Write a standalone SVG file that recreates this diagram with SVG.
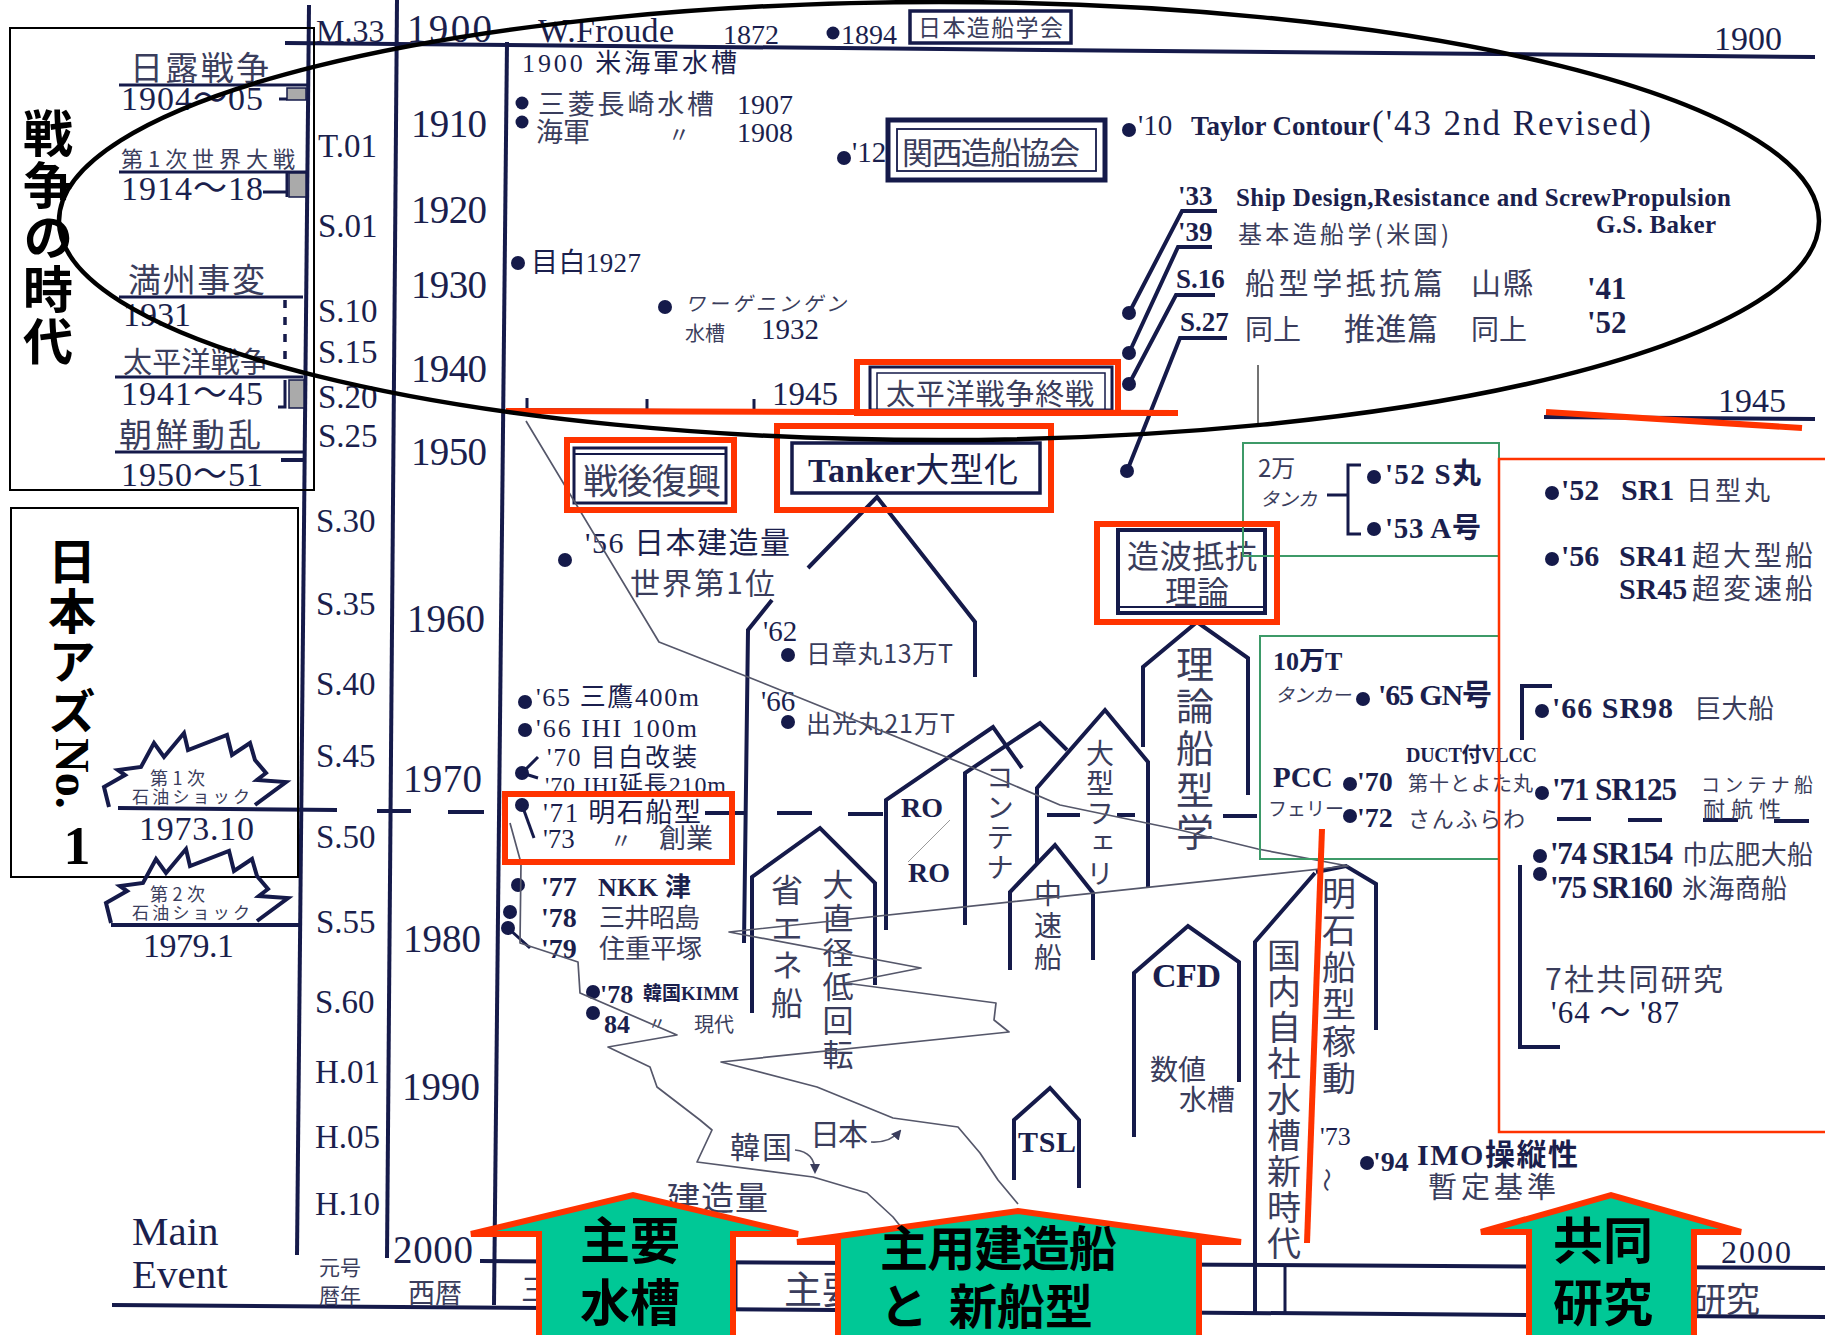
<svg xmlns="http://www.w3.org/2000/svg" width="1825" height="1335" viewBox="0 0 1825 1335">
<defs>
<style>
.ln{fill:none;stroke:#151a4a;stroke-width:4;stroke-linejoin:miter}
.ln3{fill:none;stroke:#151a4a;stroke-width:3}
.tl{fill:none;stroke:#55576a;stroke-width:1.7;stroke-linejoin:round}
.dot{fill:#151a4a}
.s{font-family:"Liberation Serif","Noto Sans CJK JP",serif;fill:#1b1f4d}
.b{font-weight:bold}
.j{font-family:"Noto Sans CJK JP",sans-serif;fill:#3a3d5c}
.vt{font-family:"Noto Sans CJK JP",sans-serif;fill:#3a3d5c;writing-mode:vertical-rl}
.vb{font-family:"Noto Sans CJK JP",sans-serif;font-weight:bold;fill:#000;writing-mode:vertical-rl}
.red{fill:none;stroke:#ff3300;stroke-width:6}
.redt{fill:none;stroke:#ff3300;stroke-width:2.5}
.grn{fill:none;stroke:#3d9a68;stroke-width:2}
.arw{fill:#00c896;stroke:#ff3300;stroke-width:6;stroke-linejoin:miter}
.big{font-family:"Noto Sans CJK JP",sans-serif;font-weight:bold;fill:#000}
.box{fill:none;stroke:#000;stroke-width:2}
.gb{fill:#aaaaaa;stroke:#151a4a;stroke-width:1.5}
</style>
<marker id="ah" viewBox="0 0 10 10" refX="8" refY="5" markerWidth="6" markerHeight="6" orient="auto"><path d="M0,0 L10,5 L0,10 z" fill="#3a3d5c"/></marker>
<path id="burst" d="M109,807 L104,787 L125,775 L118,770 L141,767 L154,743 L164,757 L184,733 L188,750 L227,735 L232,755 L250,743 L255,760 L266,773 L257,780 L286,782 L255,805"/>
</defs>
<rect width="1825" height="1335" fill="#fff"/>

<g id="axes">
<path class="ln" d="M309,5 L297,1255"/>
<path class="ln" d="M397,0 L387,1258"/>
<path class="ln" d="M507,42 L494,1305"/>
<path class="ln" d="M285,43 L1815,57"/>
<path class="ln" d="M506,410 L1178,414"/>
<path class="ln" d="M1544,417 L1815,419"/>
<path class="ln3" d="M527,398 V410 M647,399 V411 M754,399 V411"/>
<path class="ln" d="M118,808 L337,810 M377,811 L411,811 M448,812 L484,812 M705,813 L745,813 M777,813 L812,813 M848,814 L883,814 M1047,815 L1080,815 M1117,815 L1135,815 M1223,816 L1257,816 M1557,819 L1591,819 M1628,820 L1662,820 M1703,820 L1738,820 M1774,821 L1809,821"/>
<path class="ln" d="M480,1261 L1825,1268"/>
<path class="ln" d="M112,1305 L1825,1317"/>
<path class="ln3" d="M736,1263 V1311 M1285,1266 V1315"/>
<path d="M1258,365 V425" stroke="#444" stroke-width="1.5"/>
</g>

<g id="era-labels" class="s" font-size="33">
<text x="316" y="42" font-size="32">M.33</text>
<text x="318" y="157">T.01</text>
<text x="318" y="237">S.01</text>
<text x="318" y="322">S.10</text>
<text x="318" y="363">S.15</text>
<text x="318" y="408">S.20</text>
<text x="318" y="447">S.25</text>
<text x="316" y="532">S.30</text>
<text x="316" y="615">S.35</text>
<text x="316" y="695">S.40</text>
<text x="316" y="767">S.45</text>
<text x="316" y="848">S.50</text>
<text x="316" y="933">S.55</text>
<text x="315" y="1013">S.60</text>
<text x="315" y="1083">H.01</text>
<text x="315" y="1148">H.05</text>
<text x="315" y="1215">H.10</text>
</g>

<g id="year-labels" class="s" font-size="39">
<text x="407" y="42" textLength="85">1900</text>
<text x="411" y="137" textLength="76">1910</text>
<text x="411" y="223" textLength="76">1920</text>
<text x="411" y="298" textLength="76">1930</text>
<text x="411" y="382" textLength="76">1940</text>
<text x="411" y="465" textLength="76">1950</text>
<text x="407" y="632" textLength="78">1960</text>
<text x="403" y="792" textLength="79">1970</text>
<text x="403" y="952" textLength="78">1980</text>
<text x="402" y="1100" textLength="78">1990</text>
<text x="393" y="1263" textLength="80">2000</text>
</g>

<g id="axis-captions">
<text class="s" x="132" y="1245" font-size="41">Main</text>
<text class="s" x="132" y="1288" font-size="41">Event</text>
<text class="j" x="319" y="1275" font-size="21">元号</text>
<text class="j" x="319" y="1303" font-size="21">暦年</text>
<text class="j" x="408" y="1303" font-size="27">西暦</text>
<text class="j" x="521" y="1300" font-size="30">三</text>
<text class="j" x="784" y="1303" font-size="38">主要</text>
<text class="j" x="1692" y="1312" font-size="34">研究</text>
<text class="s" x="1721" y="1263" font-size="32" textLength="70">2000</text>
</g>

<g id="war-panel">
<rect class="box" x="10" y="28" width="304" height="462"/>
<text class="j" x="130" y="80" font-size="33" textLength="139">日露戦争</text>
<path class="ln3" d="M119,85 H308"/>
<text class="s" x="121" y="110" font-size="34" textLength="142">1904～05</text>
<path class="ln3" d="M279,99 H287"/>
<rect class="gb" x="287" y="88" width="19" height="12"/>
<text class="j" x="121" y="167" font-size="22" textLength="174">第1次世界大戦</text>
<path class="ln3" d="M119,172 H308"/>
<text class="s" x="121" y="200" font-size="34" textLength="142">1914～18</text>
<path class="ln3" d="M263,192 H287 M287,173 V197"/>
<rect class="gb" x="289" y="173" width="17" height="24"/>
<text class="j" x="128" y="292" font-size="33" textLength="137">満州事変</text>
<path class="ln3" d="M119,297 H303"/>
<text class="s" x="123" y="326" font-size="34">1931</text>
<path d="M285,300 V367" stroke="#151a4a" stroke-width="3.5" stroke-dasharray="8,9"/>
<text class="j" x="123" y="373" font-size="29" textLength="146">太平洋戦争</text>
<path class="ln3" d="M115,377 H303"/>
<text class="s" x="121" y="405" font-size="34" textLength="142">1941～45</text>
<path class="ln3" d="M285,380 V407 H278"/>
<rect class="gb" x="289" y="380" width="15" height="28"/>
<text class="j" x="119" y="447" font-size="33" textLength="142">朝鮮動乱</text>
<path class="ln3" d="M115,452 H303"/>
<text class="s" x="121" y="486" font-size="34" textLength="142">1950～51</text>
<path class="ln" d="M281,460 H305"/>
<text class="vb" x="48" y="108" font-size="50" letter-spacing="2">戦争の時代</text>
</g>

<g id="japan-no1-panel">
<rect class="box" x="11" y="508" width="287" height="369"/>
<text class="vb" x="72" y="537" font-size="48" letter-spacing="2">日本アズ</text>
<text font-family="Liberation Serif,serif" font-weight="bold" font-size="48" fill="#000" transform="translate(56,738) rotate(90)">No.</text>
<text font-family="Liberation Serif,serif" font-weight="bold" font-size="54" fill="#000" x="77" y="864" text-anchor="middle">1</text>
</g>

<g id="oil-shock-1">
<use href="#burst" class="ln"/>
<text class="j" x="150" y="785" font-size="18" textLength="55">第1次</text>
<text class="j" x="132" y="803" font-size="17" textLength="118">石油ショック</text>
<text class="s" x="139" y="840" font-size="34" textLength="115">1973.10</text>
</g>
<g id="oil-shock-2">
<use href="#burst" class="ln" transform="translate(2,116)"/>
<path class="ln" d="M111,925 L300,925"/>
<text class="j" x="150" y="901" font-size="18" textLength="55">第2次</text>
<text class="j" x="132" y="919" font-size="17" textLength="118">石油ショック</text>
<text class="s" x="143" y="957" font-size="34" textLength="91">1979.1</text>
</g>

<g id="top-row">
<text class="s" x="538" y="42" font-size="34" textLength="136">W.Froude</text>
<text class="s" x="723" y="44" font-size="28">1872</text>
<circle class="dot" cx="833" cy="33" r="6.5"/>
<text class="s" x="841" y="44" font-size="28">1894</text>
<rect x="910" y="11" width="161" height="32" fill="none" stroke="#151a4a" stroke-width="3.5"/>
<text class="j" x="918" y="36" font-size="23" textLength="145">日本造船学会</text>
<text class="s" x="1714" y="50" font-size="34">1900</text>
</g>

<g id="early-events">
<text class="s" x="522" y="72" font-size="26" textLength="215">1900 米海軍水槽</text>
<circle class="dot" cx="522" cy="103" r="6.5"/>
<circle class="dot" cx="522" cy="122" r="6.5"/>
<text class="j" x="538" y="114" font-size="27" textLength="176">三菱長崎水槽</text>
<text class="s" x="737" y="114" font-size="28">1907</text>
<text class="j" x="536" y="142" font-size="27">海軍</text>
<text class="j" x="668" y="142" font-size="22">〃</text>
<text class="s" x="737" y="142" font-size="28">1908</text>
<circle class="dot" cx="844" cy="158" r="7"/>
<text class="s" x="852" y="162" font-size="29">'12</text>
<circle class="dot" cx="518" cy="263" r="7"/>
<text class="s" x="531" y="272" font-size="27" textLength="110">目白1927</text>
<circle class="dot" cx="665" cy="307" r="7"/>
<text class="j" x="685" y="311" font-size="20" textLength="161" font-style="italic">ワーゲニンゲン</text>
<text class="j" x="685" y="341" font-size="20">水槽</text>
<text class="s" x="761" y="339" font-size="29">1932</text>
<text class="s" x="772" y="405" font-size="33">1945</text>
<text class="s" x="1718" y="412" font-size="34">1945</text>
</g>

<g id="kansai-box">
<rect x="888" y="120" width="217" height="60" fill="none" stroke="#151a4a" stroke-width="5"/>
<rect x="897" y="129" width="199" height="42" fill="none" stroke="#151a4a" stroke-width="1.8"/>
<text class="j" x="902" y="164" font-size="31" textLength="178">関西造船協会</text>
</g>

<g id="taylor">
<circle class="dot" cx="1129" cy="130" r="7"/>
<text class="s" x="1138" y="135" font-size="29">'10</text>
<text class="s b" x="1191" y="135" font-size="27" textLength="179">Taylor Contour</text>
<text class="s" x="1372" y="135" font-size="35" textLength="279">('43  2nd Revised)</text>
</g>

<g id="books">
<circle class="dot" cx="1129" cy="313" r="7"/>
<circle class="dot" cx="1129" cy="353" r="7"/>
<circle class="dot" cx="1129" cy="384" r="7"/>
<circle class="dot" cx="1127" cy="471" r="7"/>
<text class="s b" x="1178" y="205" font-size="27">'33</text>
<text class="s b" x="1178" y="241" font-size="27">'39</text>
<text class="s b" x="1176" y="288" font-size="27">S.16</text>
<text class="s b" x="1180" y="331" font-size="27">S.27</text>
<text class="s b" x="1236" y="206" font-size="25" textLength="495">Ship Design,Resistance and ScrewPropulsion</text>
<text class="s b" x="1596" y="233" font-size="25" textLength="120">G.S. Baker</text>
<text class="j" x="1238" y="243" font-size="24" textLength="211">基本造船学(米国)</text>
<text class="j" x="1245" y="294" font-size="30" textLength="198">船型学抵抗篇</text>
<text class="j" x="1471" y="294" font-size="30" textLength="62">山縣</text>
<text class="s b" x="1587" y="299" font-size="31">'41</text>
<text class="j" x="1245" y="340" font-size="28">同上</text>
<text class="j" x="1344" y="340" font-size="31" textLength="94">推進篇</text>
<text class="j" x="1471" y="340" font-size="28">同上</text>
<text class="s b" x="1587" y="333" font-size="31">'52</text>
</g>

<g id="war-end-box">
<rect x="870" y="367" width="242" height="43" fill="none" stroke="#151a4a" stroke-width="3"/>
<rect x="877" y="373" width="228" height="37" fill="none" stroke="#151a4a" stroke-width="1.5"/>
<text class="j" x="886" y="405" font-size="29" textLength="208">太平洋戦争終戦</text>
</g>

<g id="postwar-box">
<rect x="574" y="448" width="152" height="55" fill="none" stroke="#151a4a" stroke-width="3"/>
<path d="M574,454 H726" stroke="#151a4a" stroke-width="2"/>
<text class="j" x="583" y="494" font-size="35" textLength="138">戦後復興</text>
</g>

<g id="tanker-house">
<rect x="792" y="443" width="248" height="50" fill="none" stroke="#151a4a" stroke-width="3.5"/>
<text class="s" x="808" y="482" font-size="34" textLength="210"><tspan font-weight="bold">Tanker</tspan>大型化</text>
<path class="ln" d="M808,568 L877,497 L975,622 V677"/>
</g>

<g id="events-50s-70s">
<circle class="dot" cx="565" cy="560" r="7"/>
<text class="s" x="585" y="553" font-size="30" textLength="205">'56 日本建造量</text>
<text class="j" x="630" y="594" font-size="30" textLength="145">世界第1位</text>
<path class="ln" d="M772,600 L748,630 L744,943"/>
<text class="s" x="763" y="641" font-size="29">'62</text>
<circle class="dot" cx="788" cy="655" r="7"/>
<text class="j" x="806" y="663" font-size="25" textLength="147">日章丸13万T</text>
<text class="s" x="761" y="711" font-size="29">'66</text>
<circle class="dot" cx="788" cy="722" r="7"/>
<text class="j" x="806" y="733" font-size="25" textLength="149">出光丸21万T</text>
<circle class="dot" cx="525" cy="702" r="7"/>
<text class="s" x="536" y="706" font-size="26" textLength="163">'65 三鷹400m</text>
<circle class="dot" cx="525" cy="730" r="7"/>
<text class="s" x="536" y="737" font-size="26" textLength="161">'66 IHI 100m</text>
<circle class="dot" cx="522" cy="773" r="7"/>
<path class="ln3" d="M538,757 L522,773 L538,778"/>
<text class="s" x="547" y="766" font-size="25" textLength="150">'70 目白改装</text>
<text class="s" x="545" y="793" font-size="24" textLength="181">'70 IHI延長210m</text>
<circle class="dot" cx="522" cy="805" r="7"/>
<path class="ln3" d="M522,805 L534,838"/>
<text class="s" x="543" y="822" font-size="27" textLength="158">'71 明石船型</text>
<text class="s" x="543" y="848" font-size="27">'73</text>
<text class="j" x="610" y="848" font-size="22">〃</text>
<text class="j" x="659" y="848" font-size="27">創業</text>
<circle class="dot" cx="518" cy="885" r="7"/>
<text class="s b" x="541" y="896" font-size="28">'77</text>
<text class="s b" x="598" y="896" font-size="26" textLength="93">NKK 津</text>
<circle class="dot" cx="510" cy="912" r="7"/>
<text class="s b" x="541" y="927" font-size="28">'78</text>
<text class="j" x="599" y="927" font-size="26" textLength="101">三井昭島</text>
<circle class="dot" cx="508" cy="928" r="7"/>
<path class="ln3" d="M508,928 L530,948"/>
<text class="s b" x="541" y="958" font-size="28">'79</text>
<text class="j" x="599" y="958" font-size="26" textLength="103">住重平塚</text>
<circle class="dot" cx="593" cy="992" r="7"/>
<text class="s b" x="600" y="1003" font-size="26">'78</text>
<text class="s b" x="643" y="1000" font-size="19" textLength="96">韓国KIMM</text>
<circle class="dot" cx="593" cy="1013" r="7"/>
<text class="s b" x="604" y="1033" font-size="26">84</text>
<text class="j" x="648" y="1030" font-size="18">〃</text>
<text class="j" x="694" y="1032" font-size="20">現代</text>
</g>

<g id="house-energy">
<path class="ln" d="M752,1013 V877 L820,828 L875,883 V985"/>
<text class="vt" x="787" y="874" font-size="32" letter-spacing="5.5">省エネ船</text>
<text class="vt" x="838" y="869" font-size="31" letter-spacing="3">大直径低回転</text>
</g>
<g id="house-roro">
<path class="ln" d="M886,930 V800 L993,727 L1022,768"/>
<text class="s b" x="901" y="817" font-size="28">RO</text>
<text class="s b" x="908" y="882" font-size="28">RO</text>
<path d="M908,862 L950,820" stroke="#999" stroke-width="1"/>
</g>
<g id="house-container">
<path class="ln" d="M965,925 V773 L1040,723 L1067,750"/>
<text class="vt" x="1000" y="763" font-size="28" letter-spacing="2">コンテナ</text>
</g>
<g id="house-ferry">
<path class="ln" d="M1037,863 V788 L1105,710 L1148,762 V887"/>
<text class="vt" x="1100" y="739" font-size="28" letter-spacing="2">大型フェリ</text>
</g>
<g id="house-medium">
<path class="ln" d="M1010,970 V892 L1055,845 L1093,893 V960"/>
<text class="vt" x="1048" y="879" font-size="28" letter-spacing="4">中速船</text>
</g>
<g id="house-theory">
<rect x="1118" y="530" width="147" height="83" fill="none" stroke="#151a4a" stroke-width="4"/>
<path d="M1118,607 H1265" stroke="#151a4a" stroke-width="2"/>
<text class="j" x="1192" y="568" font-size="32" text-anchor="middle" textLength="130">造波抵抗</text>
<text class="j" x="1197" y="604" font-size="32" text-anchor="middle">理論</text>
<path class="ln" d="M1143,747 V667 L1197,622 L1248,658 V795"/>
<text class="vt" x="1195" y="645" font-size="38" letter-spacing="4">理論船型学</text>
</g>
<g id="house-cfd">
<path class="ln" d="M1134,1137 V973 L1188,926 L1239,962 V1082"/>
<text class="s b" x="1152" y="987" font-size="34" textLength="69">CFD</text>
<text class="j" x="1150" y="1080" font-size="28">数値</text>
<text class="j" x="1179" y="1110" font-size="28">水槽</text>
</g>
<g id="house-tsl">
<path class="ln" d="M1014,1180 V1120 L1050,1088 L1079,1120 V1188"/>
<text class="s b" x="1018" y="1152" font-size="30" textLength="58">TSL</text>
</g>
<g id="house-domestic">
<path class="ln" d="M1255,1315 V942 L1315,873"/>
<text class="vt" x="1284" y="938" font-size="34" letter-spacing="2">国内自社水槽新時代</text>
</g>
<g id="house-akashi">
<path class="ln" d="M1316,872 L1346,866 L1376,884 V1030"/>
<text class="vt" x="1339" y="876" font-size="34" letter-spacing="3">明石船型稼動</text>
<text class="s" x="1320" y="1145" font-size="26">'73</text>
<text class="j" font-size="24" transform="translate(1318,1168) rotate(90)">～</text>
</g>

<g id="tankers-2man">
<text class="j" x="1258" y="477" font-size="24">2万</text>
<text class="j" x="1260" y="506" font-size="19" font-style="italic">タンカ</text>
<path class="ln3" d="M1327,495 H1348 M1361,465 H1348 V534 H1361"/>
<circle class="dot" cx="1374" cy="477" r="7"/>
<circle class="dot" cx="1374" cy="529" r="7"/>
<text class="s b" x="1385" y="484" font-size="29" textLength="96">'52 S丸</text>
<text class="s b" x="1385" y="538" font-size="29" textLength="96">'53 A号</text>
</g>

<g id="tankers-10man">
<text class="s b" x="1273" y="670" font-size="26">10万T</text>
<text class="j" x="1275" y="702" font-size="19" font-style="italic">タンカー</text>
<circle class="dot" cx="1363" cy="699" r="7"/>
<text class="s b" x="1378" y="705" font-size="30" textLength="114">'65 GN号</text>
<text class="s b" x="1406" y="762" font-size="20" textLength="131">DUCT付VLCC</text>
<text class="s b" x="1273" y="787" font-size="29">PCC</text>
<circle class="dot" cx="1350" cy="784" r="7"/>
<text class="s b" x="1357" y="791" font-size="28">'70</text>
<text class="j" x="1408" y="791" font-size="20" textLength="125">第十とよた丸</text>
<text class="j" x="1268" y="816" font-size="19">フェリー</text>
<circle class="dot" cx="1350" cy="816" r="7"/>
<text class="s b" x="1357" y="827" font-size="28">'72</text>
<text class="j" x="1408" y="827" font-size="22" textLength="117">さんふらわ</text>
</g>

<g id="sr-research">
<circle class="dot" cx="1552" cy="493" r="7"/>
<text class="s b" x="1561" y="500" font-size="30">'52</text>
<text class="s b" x="1621" y="500" font-size="30">SR1</text>
<text class="j" x="1686" y="500" font-size="26" textLength="84">日型丸</text>
<circle class="dot" cx="1552" cy="559" r="7"/>
<text class="s b" x="1561" y="566" font-size="30">'56</text>
<text class="s b" x="1619" y="566" font-size="30">SR41</text>
<text class="j" x="1692" y="566" font-size="28" textLength="121">超大型船</text>
<text class="s b" x="1619" y="599" font-size="30">SR45</text>
<text class="j" x="1692" y="599" font-size="28" textLength="121">超変速船</text>
<path class="ln" d="M1552,686 H1522 V740"/>
<circle class="dot" cx="1542" cy="711" r="7"/>
<text class="s b" x="1552" y="718" font-size="30" textLength="121">'66 SR98</text>
<text class="j" x="1695" y="718" font-size="26" textLength="79">巨大船</text>
<circle class="dot" cx="1542" cy="793" r="7"/>
<text class="s b" x="1552" y="800" font-size="31" textLength="125">'71 SR125</text>
<text class="j" x="1701" y="792" font-size="19" textLength="112">コンテナ船</text>
<text class="j" x="1703" y="817" font-size="22" textLength="78">耐航性</text>
<circle class="dot" cx="1540" cy="856" r="7"/>
<text class="s b" x="1550" y="864" font-size="31" textLength="123">'74 SR154</text>
<text class="j" x="1682" y="864" font-size="26" textLength="131">巾広肥大船</text>
<circle class="dot" cx="1540" cy="874" r="7"/>
<text class="s b" x="1550" y="898" font-size="31" textLength="123">'75 SR160</text>
<text class="j" x="1682" y="898" font-size="26" textLength="105">氷海商船</text>
<path class="ln" d="M1520,865 V1047 H1560"/>
<text class="j" x="1545" y="990" font-size="30" textLength="178">7社共同研究</text>
<text class="s" x="1551" y="1023" font-size="31" textLength="128">'64 ～ '87</text>
<circle class="dot" cx="1367" cy="1163" r="7"/>
<text class="s b" x="1373" y="1171" font-size="28">'94</text>
<text class="s b" x="1417" y="1165" font-size="30" textLength="161">IMO操縦性</text>
<text class="j" x="1428" y="1198" font-size="29" textLength="128">暫定基準</text>
</g>

<g id="connectors">
<path class="ln" d="M1129,313 L1182,211 H1217"/>
<path class="ln" d="M1129,353 L1178,247 H1212"/>
<path class="ln" d="M1129,384 L1176,295 H1215"/>
<path class="ln" d="M1127,471 L1180,338 H1227"/>
<path class="tl" d="M526,421 L659,642 L748,677 L971,767 L1060,805 L1180,830 L1258,849 L1348,866 L729,932 L921,968 L845,983 L996,1003 L994,1020 L1009,1032 L721,1062 L817,1087 L893,1118 L958,1127 L980,1153 L998,1180 L1018,1204"/>
<path class="tl" d="M510,823 L521,863 L520,943 L578,962 L580,993 L677,1035 L608,1047 L650,1067 L657,1087 L700,1120 L712,1130 L697,1162 L813,1177 L867,1193 L893,1217 L905,1232"/>
<path class="tl" d="M871,1142 Q890,1143 900,1131" marker-end="url(#ah)"/>
<path class="tl" d="M795,1150 Q815,1152 815,1172" marker-end="url(#ah)"/>
</g>

<g id="volume-labels">
<text class="j" x="810" y="1145" font-size="30" textLength="58">日本</text>
<text class="j" x="730" y="1158" font-size="30" textLength="62">韓国</text>
<text class="j" x="667" y="1210" font-size="33" textLength="101">建造量</text>
</g>

<g id="annotation-green-boxes">
<rect class="grn" x="1243" y="443" width="256" height="113"/>
<rect class="grn" x="1260" y="636" width="239" height="223"/>
</g>

<g id="annotation-red">
<rect class="red" x="567" y="440" width="167" height="70"/>
<rect class="red" x="777" y="426" width="274" height="84"/>
<rect class="red" x="1097" y="524" width="180" height="98"/>
<rect class="red" x="857" y="362" width="261" height="51"/>
<rect class="red" x="505" y="794" width="227" height="68"/>
<path class="red" d="M506,411 L1178,413"/>
<path class="red" d="M1546,412 L1802,428"/>
<path class="red" d="M1322,829 L1307,1243"/>
<path class="redt" d="M1825,459 H1499 V1132 H1825"/>
</g>

<g id="war-era-ellipse">
<ellipse cx="939" cy="221" rx="880" ry="219" fill="none" stroke="#000" stroke-width="4.5"/>
</g>

<g id="arrow-tanks">
<path class="arw" d="M539,1345 V1234 H471 L633,1195 L798,1234 H733 V1345"/>
<text class="big" x="630" y="1259" font-size="50" text-anchor="middle">主要</text>
<text class="big" x="630" y="1321" font-size="50" text-anchor="middle">水槽</text>
</g>
<g id="arrow-ships">
<path class="arw" d="M838,1345 V1242 H797 L1018,1211 L1241,1242 H1199 V1345"/>
<text class="big" x="880" y="1266" font-size="48" textLength="237">主用建造船</text>
<text class="big" x="880" y="1324" font-size="48">と</text>
<text class="big" x="949" y="1324" font-size="48">新船型</text>
</g>
<g id="arrow-joint">
<path class="arw" d="M1529,1345 V1232 H1481 L1611,1195 L1741,1232 H1694 V1345"/>
<text class="big" x="1603" y="1259" font-size="50" text-anchor="middle">共同</text>
<text class="big" x="1603" y="1321" font-size="50" text-anchor="middle">研究</text>
</g>
</svg>
